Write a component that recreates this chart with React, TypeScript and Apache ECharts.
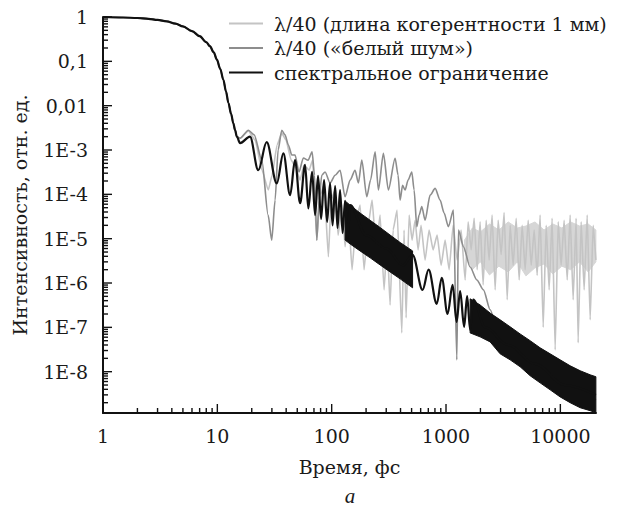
import React, { useEffect, useRef } from "react";
import * as echarts from "echarts";

const FONT = "'DejaVu Serif', serif";

const X_MIN = 1;
const X_MAX = 20500;
const Y_MIN = 1.17e-9;
const Y_MAX = 1;

const X_MAJOR = [1, 10, 100, 1000, 10000];
const X_LABELS = ["1", "10", "100", "1000", "10000"];
const X_MINOR_DECADES = [1, 10, 100, 1000];
const Y_MAJOR = [1, 0.1, 0.01, 1e-3, 1e-4, 1e-5, 1e-6, 1e-7, 1e-8];
const Y_LABELS = ["1", "0,1", "0,01", "1E-3", "1E-4", "1E-5", "1E-6", "1E-7", "1E-8"];
const Y_MINOR_DECADES = [1e-9, 1e-8, 1e-7, 1e-6, 1e-5, 1e-4, 1e-3, 1e-2, 1e-1];
const MINOR_STEPS = [2, 3, 4, 5, 6, 7, 8, 9];

const NAMES = [
  "λ/40 (длина когерентности 1 мм)",
  "λ/40 («белый шум»)",
  "спектральное ограничение",
];

// common start (all three curves coincide)
const INIT_T = [1, 1.5, 2, 2.5, 3, 3.6, 4.3, 5, 6, 7, 8, 8.6, 9.3, 9.9, 10.6, 11.3, 11.9, 12.5, 13.2, 13.8, 14.3, 14.8];
const INIT_I = [1, 0.975, 0.95, 0.91, 0.86, 0.8, 0.71, 0.615, 0.48, 0.37, 0.27, 0.22, 0.16, 0.11, 0.068, 0.038, 0.021, 0.0115, 0.0065, 0.004, 0.0028, 0.002];

// spectral limit (black)
const BLACK_T = [15.8, 19.3, 22.8, 27.0, 33.1, 37.8, 43.3, 47.8, 52.9, 58.5, 62.5, 67.4, 71.6, 76.0, 80.8, 85.8, 91.2, 96.8, 101.8, 107.2, 112.6, 118.4, 124.6, 131, 138, 145, 200, 300, 420, 510, 624, 704, 830, 918, 1032, 1142, 1238, 1329, 1440, 1530, 1625, 1727, 2200, 3500, 6000, 11000, 20450];
const BLACK_I = [1.43e-3, 2.0e-3, 3.5e-4, 1.5e-3, 1.77e-4, 8.4e-4, 9.6e-5, 5.9e-4, 6.3e-5, 4.6e-4, 4.8e-5, 3.2e-4, 3.4e-5, 2.6e-4, 2.8e-5, 2.1e-4, 2.4e-5, 1.8e-4, 2.0e-5, 1.54e-4, 1.74e-5, 1.25e-4, 1.34e-5, 7.1e-5, 1.05e-5, 5.7e-5, 1.2e-5, 6e-6, 2.5e-6, 4.3e-6, 7.0e-7, 2.0e-6, 3.4e-7, 1.3e-6, 2.0e-7, 9.1e-7, 1.33e-7, 6.6e-7, 1.03e-7, 5.1e-7, 8.8e-8, 4.2e-7, 1.0e-7, 4e-8, 1.5e-8, 5e-9, 3e-9];

// dense oscillation bands of the black curve (upper / lower envelope)
const BAND1_T = [131, 145, 177, 217, 265, 324, 397, 510];
const BAND1_TOP = [7.1e-5, 5.7e-5, 3.8e-5, 2.6e-5, 1.79e-5, 1.21e-5, 8.2e-6, 5.3e-6];
const BAND1_BOT = [9.3e-6, 7.6e-6, 5.3e-6, 3.7e-6, 2.56e-6, 1.78e-6, 1.24e-6, 7.8e-7];
const BAND2_T = [1625, 1987, 2431, 2973, 3637, 4448, 5441, 6655, 8141, 9958, 12180, 14900, 18230, 20450];
const BAND2_TOP = [4.4e-7, 3.2e-7, 2.1e-7, 1.48e-7, 1.03e-7, 7.1e-8, 5.0e-8, 3.45e-8, 2.53e-8, 1.85e-8, 1.36e-8, 1.05e-8, 8.5e-9, 7.7e-9];
const BAND2_BOT = [7.5e-8, 6.1e-8, 4.7e-8, 2.53e-8, 1.85e-8, 1.29e-8, 8.1e-9, 5.6e-9, 3.9e-9, 2.7e-9, 2.0e-9, 1.54e-9, 1.32e-9, 1.19e-9];

// white noise (medium gray)
const MID_T = [15.8, 18.7, 21.0, 24.5, 27.8, 29.9, 32.0, 34.0, 36.6, 39.1, 41.8, 44.8, 47.8, 51.8, 56.5, 62.2, 67.4, 70.8, 74.1, 77.6, 81.9, 87.6, 96.8, 107.2, 118.4, 131, 145, 160.2, 171.3, 183.4, 202.8, 218.8, 239.8, 256.3, 283.3, 313.3, 358.6, 381, 396.7, 417, 438.6, 466, 502, 526, 555.3, 581.6, 614, 656, 726, 803, 888, 962, 1049, 1161, 1243, 1284, 1420, 1625, 1861, 2125, 2431, 2973, 4448, 5441, 9958, 20450];
const MID_I = [1.85e-3, 2.8e-3, 2.2e-3, 5.9e-4, 3.4e-5, 9.3e-6, 7.4e-5, 1.0e-3, 2.8e-3, 2.2e-3, 1.3e-3, 7.7e-4, 7.7e-4, 3.2e-4, 6.6e-4, 5.9e-4, 9.1e-4, 2.7e-4, 9.3e-6, 7.4e-5, 2.7e-4, 3.2e-4, 1.8e-4, 2.7e-4, 3.5e-4, 8.8e-5, 2.1e-4, 3.5e-4, 1.8e-4, 5.9e-4, 8.8e-5, 2.1e-4, 9.1e-4, 1.25e-4, 8.4e-4, 1.25e-4, 6.5e-4, 2.7e-4, 7.4e-5, 1.6e-4, 1.25e-4, 2.1e-4, 3.2e-4, 1.25e-4, 1.86e-5, 3.4e-5, 5.3e-5, 2.6e-5, 9.6e-5, 1.36e-4, 7.4e-5, 3.8e-5, 1.86e-5, 4.4e-5, 1.85e-8, 1.57e-5, 6.6e-6, 2.3e-6, 1.17e-6, 7.0e-7, 2.5e-7, 5.2e-8, 2.9e-8, 1.85e-8, 6.6e-9, 2.3e-9];

// coherence length 1 mm (light gray)
const LIGHT_T = [15.8, 18.7, 21.4, 24.6, 27.9, 30.1, 33.3, 36.6, 39.9, 44.2, 48.8, 52.9, 57.3, 63.4, 68.1, 74.1, 79.1, 85.8, 93.6, 98.8, 107, 113.8, 123.3, 131, 140, 150.8, 163.5, 177.3, 192, 208.2, 225.7, 244.7, 265, 287.3, 305.3, 324.3, 344.4, 373.3, 410.5, 429.7, 447.7, 475.5, 505, 536.6, 570, 605, 656, 711.6, 771, 836, 906, 982, 1065, 1154, 1251, 1356, 1470, 1561, 1660, 1762, 1872, 1987, 2112, 2244, 2383, 2531, 2690, 2857, 3035, 3223, 3428, 3637, 3865, 4109, 4363, 4634, 4922, 5231, 5559, 5902, 6269, 6655, 7079, 7516, 7980, 8473, 9008, 9572, 10160, 10790, 11480, 12180, 12940, 13740, 14310, 15200, 16150, 17170, 18230, 19360, 20450];
const LIGHT_I = [1.85e-3, 2.7e-3, 1.67e-3, 3.5e-4, 1.25e-4, 2.7e-4, 1.3e-3, 2.4e-3, 1.67e-3, 5.9e-4, 3.9e-4, 2.1e-4, 4.6e-4, 3.5e-4, 5.9e-4, 9.3e-6, 9.6e-5, 1.6e-4, 3.9e-6, 7.4e-5, 1.25e-4, 1.2e-5, 5.7e-5, 6.6e-6, 3.4e-5, 2.0e-6, 2.6e-5, 5.7e-5, 2.0e-6, 2.0e-5, 7.4e-5, 5.6e-6, 3.4e-5, 7.0e-7, 9.3e-6, 3.2e-7, 1.57e-5, 4.4e-5, 7.5e-8, 1.57e-5, 1.64e-7, 3.4e-5, 9.3e-6, 2.6e-5, 5.6e-6, 2.0e-5, 3.3e-6, 1.57e-5, 5.6e-6, 1.2e-5, 2.5e-6, 9.3e-6, 2.0e-6, 2.0e-5, 3.3e-6, 1.57e-5, 1.17e-6, 2.4e-5, 5.6e-6, 2.9e-5, 2.0e-6, 2.4e-5, 9.1e-7, 2.6e-5, 3.3e-6, 3.4e-5, 7.0e-7, 2.6e-5, 4.4e-6, 3.9e-5, 4.2e-7, 2.0e-5, 2.5e-6, 2.9e-5, 1.17e-6, 2.0e-5, 2.0e-6, 2.6e-5, 2.5e-6, 1.57e-5, 1.5e-6, 3.4e-5, 1.0e-7, 2.0e-5, 7.0e-7, 2.9e-5, 3.1e-8, 2.4e-5, 2.5e-6, 2.6e-5, 1.17e-6, 3.4e-5, 4.2e-7, 2.9e-5, 4.5e-8, 2.4e-5, 7.0e-7, 3.4e-5, 1.48e-7, 2.0e-5, 3.3e-6];

// dense noise core of the light gray curve (ragged upper / lower envelope)
const LIGHT_CORE_T = [1450, 1700, 2000, 2400, 2900, 3500, 4200, 5000, 6000, 7200, 8600, 10300, 12300, 14700, 17500, 20450];
const LIGHT_CORE_TOP = [9.3e-6, 1.74e-5, 1.42e-5, 2.14e-5, 1.57e-5, 2.38e-5, 1.74e-5, 1.93e-5, 2.38e-5, 1.57e-5, 2.14e-5, 1.74e-5, 2.38e-5, 1.93e-5, 2.14e-5, 1.57e-5];
const LIGHT_CORE_BOT = [5.6e-6, 2.0e-6, 3.0e-6, 1.52e-6, 2.4e-6, 1.78e-6, 3.0e-6, 1.45e-6, 2.2e-6, 2.69e-6, 1.6e-6, 2.4e-6, 2.0e-6, 3.0e-6, 1.78e-6, 3.0e-6];

const COLORS = ["#c4c4c4", "#8d8d8d", "#111111"];
const CORE_FILL = "#d6d6d6";

const pairs = (ts: number[], vs: number[]) => ts.map((t, i) => [t, vs[i]]);

function isPow10(v: number) {
  const e = Math.log10(v);
  return Math.abs(e - Math.round(e)) < 1e-6;
}

function labelFor(v: number, majors: number[], labels: string[]) {
  if (!isPow10(v)) return "";
  const e = Math.round(Math.log10(v));
  const idx = majors.findIndex((m) => Math.round(Math.log10(m)) === e);
  return idx >= 0 ? labels[idx] : "";
}

function bandSeries(ts: number[], top: number[], bot: number[], color: string, z: number) {
  return {
    type: "custom",
    coordinateSystem: "cartesian2d",
    silent: true,
    z,
    data: [[ts[0], top[0]]],
    renderItem: (_p: any, api: any) => {
      const pts: number[][] = [];
      for (let i = 0; i < ts.length; i++) pts.push(api.coord([ts[i], top[i]]));
      for (let i = ts.length - 1; i >= 0; i--) pts.push(api.coord([ts[i], bot[i]]));
      return { type: "polygon", shape: { points: pts }, style: { fill: color, stroke: color, lineWidth: 1 } };
    },
  };
}

export default function App() {
  const ref = useRef<HTMLDivElement>(null);
  useEffect(() => {
    if (!ref.current) return;
    const chart = echarts.init(ref.current, undefined, { renderer: "svg" });

    const xTicks: number[][] = [];
    X_MAJOR.forEach((v) => xTicks.push([v, Y_MIN, 1]));
    X_MINOR_DECADES.forEach((d) => MINOR_STEPS.forEach((m) => xTicks.push([m * d, Y_MIN, 0])));
    const yTicks: number[][] = [];
    Y_MAJOR.forEach((v) => yTicks.push([X_MIN, v, 1]));
    Y_MINOR_DECADES.forEach((d) =>
      MINOR_STEPS.forEach((m) => {
        if (m * d >= Y_MIN && m * d < Y_MAX) yTicks.push([X_MIN, m * d, 0]);
      })
    );

    const lineSeries = (idx: number, ts: number[], vs: number[], width: number, smooth: number, z: number) => ({
      name: NAMES[idx],
      type: "line",
      z,
      data: pairs(INIT_T, INIT_I).concat(pairs(ts, vs)),
      symbol: "none",
      smooth,
      smoothMonotone: "x",
      silent: true,
      lineStyle: { color: COLORS[idx], width },
      itemStyle: { color: COLORS[idx] },
    });

    const axisText = { color: "#1a1a1a", fontSize: 19, fontFamily: FONT };

    chart.setOption({
      animation: false,
      backgroundColor: "#ffffff",
      grid: { left: 103, right: 23, top: 17, bottom: 97, containLabel: false },
      legend: {
        data: NAMES,
        orient: "vertical",
        left: 228,
        top: 14,
        padding: 0,
        itemWidth: 34,
        itemHeight: 14,
        itemGap: 5.5,
        selectedMode: false,
        itemStyle: { color: "rgba(0,0,0,0)", borderWidth: 0, borderColor: "rgba(0,0,0,0)" },
        textStyle: { ...axisText, padding: [0, 0, 0, 6] },
      },
      xAxis: {
        type: "log",
        logBase: 10,
        min: X_MIN,
        max: X_MAX,
        axisLine: { show: true, lineStyle: { color: "#111", width: 2 } },
        axisTick: { show: false },
        splitLine: { show: false },
        axisLabel: {
          ...axisText,
          margin: 13,
          interval: 0,
          formatter: (v: number) => labelFor(v, X_MAJOR, X_LABELS),
        },
        name: "Время, фс",
        nameLocation: "middle",
        nameGap: 44,
        nameTextStyle: axisText,
      },
      yAxis: {
        type: "log",
        logBase: 10,
        min: Y_MIN,
        max: Y_MAX,
        axisLine: { show: true, lineStyle: { color: "#111", width: 2 } },
        axisTick: { show: false },
        splitLine: { show: false },
        axisLabel: {
          ...axisText,
          margin: 15,
          interval: 0,
          formatter: (v: number) => labelFor(v, Y_MAJOR, Y_LABELS),
        },
        name: "Интенсивность, отн. ед.",
        nameLocation: "middle",
        nameGap: 74,
        nameTextStyle: axisText,
      },
      graphic: [
        {
          type: "text",
          x: 350,
          y: 496,
          style: {
            text: "а",
            fontSize: 21,
            fontStyle: "italic",
            fontFamily: "'Liberation Serif', serif",
            fill: "#1a1a1a",
            textAlign: "center",
            textVerticalAlign: "middle",
          },
        },
      ],
      series: [
        bandSeries(LIGHT_CORE_T, LIGHT_CORE_TOP, LIGHT_CORE_BOT, CORE_FILL, 1),
        lineSeries(0, LIGHT_T, LIGHT_I, 1.6, 0.15, 2),
        lineSeries(1, MID_T, MID_I, 1.6, 0.25, 3),
        bandSeries(BAND1_T, BAND1_TOP, BAND1_BOT, COLORS[2], 4),
        bandSeries(BAND2_T, BAND2_TOP, BAND2_BOT, COLORS[2], 4),
        lineSeries(2, BLACK_T, BLACK_I, 2.2, 0.35, 5),
        {
          type: "custom",
          coordinateSystem: "cartesian2d",
          silent: true,
          clip: false,
          z: 6,
          data: xTicks,
          renderItem: (_p: any, api: any) => {
            const pt = api.coord([api.value(0), api.value(1)]);
            const len = api.value(2) ? 9 : 5;
            return { type: "line", shape: { x1: pt[0], y1: pt[1], x2: pt[0], y2: pt[1] - len }, style: { stroke: "#111", lineWidth: 1.4 } };
          },
        },
        {
          type: "custom",
          coordinateSystem: "cartesian2d",
          silent: true,
          clip: false,
          z: 6,
          data: yTicks,
          renderItem: (_p: any, api: any) => {
            const pt = api.coord([api.value(0), api.value(1)]);
            const len = api.value(2) ? 9 : 5;
            return { type: "line", shape: { x1: pt[0], y1: pt[1], x2: pt[0] + len, y2: pt[1] }, style: { stroke: "#111", lineWidth: 1.4 } };
          },
        },
      ],
    });
    return () => chart.dispose();
  }, []);
  return <div ref={ref} style={{ position: "fixed", left: 0, top: 0, width: 619, height: 510 }} />;
}
